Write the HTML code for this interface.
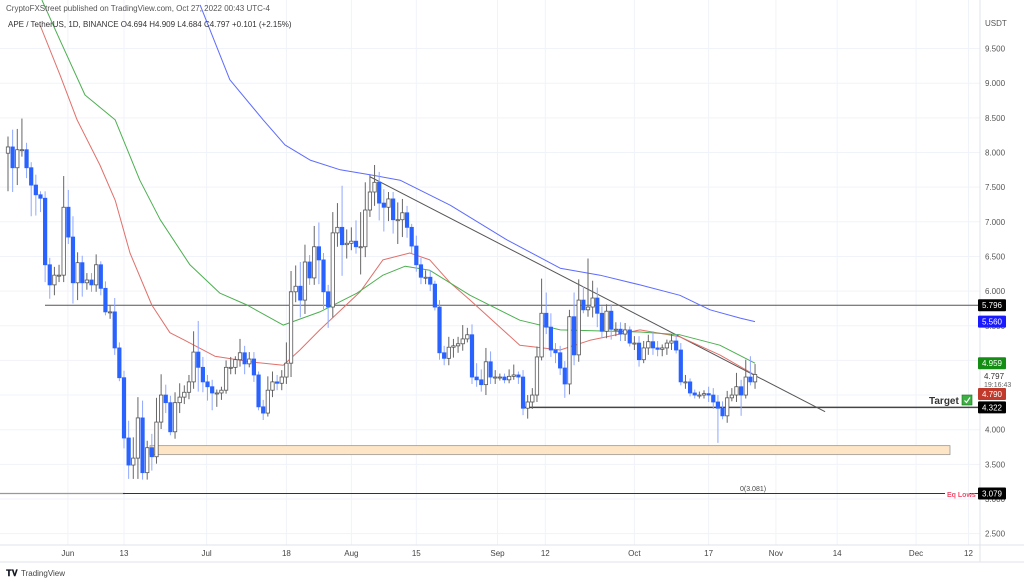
<!DOCTYPE html>
<html><head><meta charset="utf-8"><style>
html,body{margin:0;padding:0;background:#fff;}
body{width:1024px;height:582px;overflow:hidden;font-family:"Liberation Sans",sans-serif;}
svg{display:block}
</style></head><body>
<svg id="chart" width="1024" height="582" viewBox="0 0 1024 582" xmlns="http://www.w3.org/2000/svg">
<rect x="0" y="0" width="1024" height="582" fill="#fff"/>
<g id="grid"></g>
<g id="levels"></g>
<g id="mas"></g>
<g id="candles"></g>
<g id="axes"></g>
<text x="6" y="11" font-size="8" fill="#555">CryptoFXStreet published on TradingView.com, Oct 27, 2022 00:43 UTC-4</text>
<text x="8" y="27" font-size="8" fill="#333">APE / TetherUS, 1D, BINANCE  O4.694  H4.909  L4.684  C4.797  +0.101 (+2.15%)</text>
<text x="985" y="26" font-size="8" fill="#555">USDT</text>
<text x="6" y="576" font-size="9" font-weight="bold" fill="#131722">𝐓𝐕</text>
<text x="21" y="576" font-size="8" fill="#444">TradingView</text>
</svg>
<script>
const priceTicks=[9.5,9.0,8.5,8.0,7.5,7.0,6.5,6.0,5.5,5.0,4.5,4.0,3.5,3.0,2.5];
const dateLabels=["Jun","13","Jul","18","Aug","15","Sep","12","Oct","17","Nov","14","Dec","12"];
const dateIdx=[12.9,25,42.8,60,74,88,105.5,115.8,135,151,165.5,178.7,195.7,207];
const closes=[8.08,7.78,8.04,8.04,7.78,7.53,7.39,7.34,6.38,6.09,6.23,6.23,7.21,6.78,6.12,6.41,6.12,6.16,6.09,6.38,6.04,5.70,5.70,5.18,4.75,3.88,3.49,3.59,4.17,3.38,3.74,3.61,4.11,4.50,4.39,3.97,4.39,4.47,4.54,4.69,5.12,4.90,4.69,4.62,4.53,4.53,4.57,4.90,4.90,5.01,5.11,4.95,5.02,4.79,4.33,4.24,4.57,4.69,4.67,4.76,4.96,5.99,6.07,5.87,6.42,6.19,6.64,6.45,5.99,5.77,6.84,6.92,6.67,6.69,6.72,6.64,6.64,7.17,7.43,7.57,7.27,7.21,7.33,7.03,7.03,7.13,6.92,6.65,6.38,6.20,6.20,6.10,5.77,5.11,5.03,5.19,5.21,5.24,5.31,5.37,4.76,4.72,4.65,4.98,4.76,4.76,4.76,4.72,4.77,4.79,4.76,4.31,4.40,4.50,5.05,5.68,5.48,5.15,5.11,4.89,4.66,5.63,5.08,5.87,5.73,5.77,5.90,5.68,5.42,5.71,5.45,5.45,5.38,5.44,5.25,5.25,5.01,5.18,5.27,5.18,5.16,5.18,5.25,5.28,5.15,4.69,4.69,4.53,4.50,4.50,4.52,4.50,4.40,4.31,4.20,4.46,4.50,4.62,4.50,4.76,4.69,4.797];
const firstOpen=7.99;
const upWick=[.15,.25,.3,.45,.1,.08,.15,.05,.1,.1,.12,.15,.45,.25,.3,.15,.1,.1,.1,.15,.05,.1,.1,.2,.08,.1,.25,.3,.3,.25,.1,.2,.35,.3,.15,.1,.15,.2,.1,.1,.3,.45,.15,.1,.1,.05,.05,.1,.15,.05,.2,.1,.1,.1,.05,.1,.2,.15,.1,.1,.3,.3,.3,.35,.25,.1,.3,.35,.1,.1,.3,.35,.6,.2,.2,.3,.5,.4,.25,.25,.15,.2,.1,.1,.25,.2,.1,.05,.15,.1,.1,.1,.05,.1,.1,.15,.1,.1,.2,.1,.15,.2,.15,.2,.15,.1,.05,.05,.1,.15,.05,.1,.1,.1,.15,.5,.3,.2,.1,.1,.1,.1,.35,.3,.2,.7,.25,.15,.1,.1,.1,.1,.1,.1,.05,.1,.1,.1,.1,.15,.1,.05,.05,.1,.1,.1,.1,.05,.05,.05,.05,.1,.1,.1,.1,.1,.1,.2,.1,.25,.3,.15,.45,.2,.15];
const dnWick=[.55,.35,.25,.1,.15,.45,.3,.2,.25,.2,.15,.1,.1,.1,.3,.25,.2,.1,.1,.1,.1,.05,.1,.1,.05,.15,.2,.2,.3,.1,.1,.2,.1,.1,.15,.05,.1,.15,.1,.1,.1,.35,.15,.2,.25,.2,.1,.05,.1,.1,.1,.15,.05,.1,.05,.1,.05,.1,.1,.1,.1,.2,.15,.25,.2,.1,.1,.35,.25,.3,.15,.2,.45,.2,.1,.1,.4,.15,.1,.2,.25,.35,.2,.2,.35,.25,.15,.1,.1,.1,.1,.1,.05,.1,.1,.1,.15,.1,.1,.05,.1,.1,.1,.15,.1,.1,.05,.05,.05,.05,.1,.1,.15,.1,.1,.05,.1,.1,.15,.1,.2,.15,.15,.1,.05,.1,.15,.2,.1,.1,.15,.1,.1,.1,.05,.1,.1,.05,.1,.1,.1,.1,.1,.1,.05,.05,.1,.05,.05,.05,.05,.1,.1,.5,.05,.1,.05,.1,.3,.05,.05,.1,.05,.1,.15,.1];
const redIdx=[6.9,11.2,14.9,19.8,23.1,26.3,31,34.9,38.1,44.6,52.2,59.3,62.9,67.2,75.9,80.8,86.6,90.9,95.3,99.6,110.3,119,125.4,136.2,144.8,153.4,161];
const redVal=[9.84,9.12,8.47,7.82,7.31,6.55,5.80,5.40,5.29,5.06,4.98,4.93,5.15,5.44,5.99,6.45,6.55,6.45,6.12,5.87,5.22,5.15,5.29,5.44,5.34,5.08,4.79];
const greenIdx=[7.3,11.2,16.6,23.1,28.4,32.8,39.2,45.7,51.5,59.3,67.2,75.2,80.8,85.6,90.9,99.6,110.3,119,136.2,144.8,153.4,161];
const greenVal=[10.2,9.62,8.83,8.47,7.60,7.03,6.38,5.97,5.80,5.51,5.70,5.97,6.23,6.36,6.30,5.94,5.58,5.44,5.41,5.37,5.22,4.96];
const blueIdx=[41.4,47.8,55,59.7,65.1,71.6,78,84.5,95.3,107.5,119,127.6,136.2,144.8,151.3,157.8,161];
const blueVal=[10.13,9.05,8.47,8.11,7.89,7.75,7.68,7.60,7.24,6.74,6.33,6.23,6.09,5.94,5.73,5.61,5.56];
const trendIdx=[78.0,176.1];
const trendVal=[7.65,4.26];

const NS="http://www.w3.org/2000/svg";
function X(i){return 8+i*4.64;}
function Y(p){return 499-(p-3)*69.3;}
function mk(parent,tag,attrs){const e=document.createElementNS(NS,tag);for(const k in attrs)e.setAttribute(k,attrs[k]);document.getElementById(parent).appendChild(e);return e;}

priceTicks.forEach(p=>{const l=mk('grid','line',{x1:0,x2:980,y1:Y(p),y2:Y(p),stroke:'#f0f3fa','stroke-width':1});

});
dateIdx.forEach(i=>{const l=mk('grid','line',{x1:X(i),x2:X(i),y1:0,y2:545,stroke:'#f0f3fa','stroke-width':1});

});

let a=mk('axes','line',{x1:980,x2:980,y1:0,y2:562,stroke:'#e0e3eb'});


a=mk('axes','line',{x1:0,x2:1024,y1:545,y2:545,stroke:'#e0e3eb'});


a=mk('axes','line',{x1:0,x2:1024,y1:562,y2:562,stroke:'#e0e3eb'});


priceTicks.forEach(p=>{const t=mk('axes','text',{x:985,y:Y(p)+3,'font-size':8,fill:'#555'});t.textContent=p.toFixed(3);

});
dateLabels.forEach((s,k)=>{const t=mk('axes','text',{x:X(dateIdx[k]),y:556,'font-size':8,fill:'#444','text-anchor':'middle'});t.textContent=s;

});

function hline(x1,x2,p,c,w,name){const l=mk('levels','line',{x1:x1,x2:x2,y1:Y(p),y2:Y(p),stroke:c,'stroke-width':w});

}
hline(45,978,5.796,'#555',1,'resistance-line');
hline(522,978,4.322,'#444',1.6,'support-line');
hline(0,125,3.079,'#999',1.2,'eq-lows-left');
hline(123,945,3.079,'#333',1,'eq-lows-line');
hline(970,978,3.079,'#333',1,'eq-lows-tail');
const box=mk('levels','rect',{x:150,y:Y(3.77),width:800,height:Y(3.64)-Y(3.77),fill:'#fde5c5',stroke:'#999','stroke-width':0.8});


const tl=mk('levels','line',{x1:X(trendIdx[0]),y1:Y(trendVal[0]),x2:X(trendIdx[1]),y2:Y(trendVal[1]),stroke:'#555','stroke-width':1});


let t0=mk('levels','text',{x:740,y:491,'font-size':7,fill:'#444'});t0.textContent='0(3.081)';



function ma(idx,val,c,name){const d=idx.map((i,k)=>(k?'L':'M')+X(i).toFixed(1)+' '+Y(val[k]).toFixed(1)).join(' ');
const p=mk('mas','path',{d:d,fill:'none',stroke:c,'stroke-width':1,'stroke-linejoin':'round'});

}
ma(redIdx,redVal,'#e0706a','ma-red');
ma(greenIdx,greenVal,'#4caf50','ma-green');
ma(blueIdx,blueVal,'#5c6bff','ma-blue');

closes.forEach((c,i)=>{const o=i?closes[i-1]:firstOpen;const up=c>=o;
const hi=Math.max(o,c)+(upWick[i]||0.05),lo=Math.min(o,c)-(dnWick[i]||0.05);const x=X(i);
const w=mk('candles','line',{x1:x,x2:x,y1:Y(hi),y2:Y(lo),stroke:up?'#666':'#8fa8ff','stroke-width':1});


const top=Y(Math.max(o,c)),h=Math.max(1,Y(Math.min(o,c))-top);
const b=mk('candles','rect',{x:x-1.7,y:top,width:3.4,height:h,fill:up?'#fff':'#2962ff',stroke:up?'#555':'#2962ff','stroke-width':0.8});

});

function badge(p,txt,bg,name,yy){const y=yy===undefined?Y(p):yy;
const r=mk('axes','rect',{x:978,y:y-6,width:28,height:12,fill:bg,rx:1});


const t=mk('axes','text',{x:992,y:y+3,'font-size':8,fill:'#fff','text-anchor':'middle'});t.textContent=txt;

}
badge(5.796,'5.796','#000','badge-resistance');
badge(5.56,'5.560','#1a1aff','badge-ma-blue');
badge(4.959,'4.959','#138d13','badge-ma-green');
badge(4.79,'4.790','#c0392b','badge-ma-red',394);
badge(4.322,'4.322','#000','badge-support');
badge(3.079,'3.079','#000','badge-eq-lows');
let t1=mk('axes','text',{x:984,y:379,'font-size':8,fill:'#333'});t1.textContent='4.797';


let t2=mk('axes','text',{x:984,y:387,'font-size':7,fill:'#666'});t2.textContent='19:16:43';


let t3=mk('axes','text',{x:929,y:404,'font-size':10,'font-weight':'bold',fill:'#333'});t3.textContent='Target';


let cb=mk('axes','rect',{x:962,y:395,width:10,height:10,fill:'#3cb043',stroke:'#1b6e1b','stroke-width':0.6});


let ck=mk('axes','path',{d:'M964.5 400.5 L966.5 402.5 L970 397.5',fill:'none',stroke:'#fff','stroke-width':1.2});


let t4=mk('axes','text',{x:947,y:497,'font-size':7,'font-weight':'bold',fill:'#f0506e'});t4.textContent='Eq Lows';


</script>
</body></html>
